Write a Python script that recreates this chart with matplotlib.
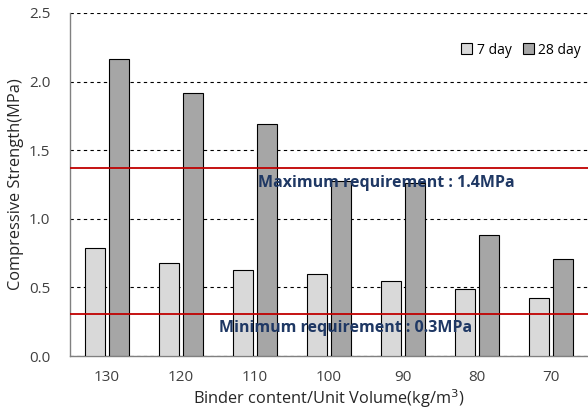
import matplotlib
matplotlib.use("Agg")
import matplotlib.pyplot as plt
import numpy as np

# binder content categories and strengths
binder = ['130', '120', '110', '100', '90', '80', '70']
day7 = [0.79, 0.68, 0.63, 0.60, 0.55, 0.49, 0.42]
day28 = [2.165, 1.92, 1.69, 1.275, 1.26, 0.88, 0.71]
max_req = 1.37
min_req = 0.31

plt.rcParams['font.family'] = ['Open Sans', 'DejaVu Sans']

fig = plt.figure(figsize=(5.88, 4.16), dpi=100)
ax = fig.add_axes([0.119, 0.144, 0.881, 0.825])

x = np.arange(len(binder))
w = 0.27
ax.bar(x - 0.16, day7, w, color='#d9d9d9', edgecolor='black', linewidth=0.8,
       label='7 day', zorder=3)
ax.bar(x + 0.16, day28, w, color='#a6a6a6', edgecolor='black', linewidth=0.8,
       label='28 day', zorder=3)

ax.axhline(max_req, color='#c00000', linewidth=1.3, zorder=4)
ax.axhline(min_req, color='#c00000', linewidth=1.3, zorder=4)

ax.text(3.78, 1.26, 'Maximum requirement : 1.4MPa', color='#1f3864',
        fontsize=11.5, fontweight='bold', ha='center', va='center', zorder=5)
ax.text(3.22, 0.205, 'Minimum requirement : 0.3MPa', color='#1f3864',
        fontsize=11.5, fontweight='bold', ha='center', va='center', zorder=5)

ax.set_xlim(-0.5, len(binder) - 0.5)
ax.set_ylim(0, 2.5)
ax.set_yticks(np.arange(0, 2.51, 0.5))
ax.set_yticklabels(['%.1f' % v for v in np.arange(0, 2.51, 0.5)])
ax.set_xticks(x)
ax.set_xticklabels(binder)
ax.yaxis.grid(True, linestyle=(0, (3, 3)), color='black', linewidth=0.8, zorder=0)
ax.set_axisbelow(True)

for s in ['top', 'right']:
    ax.spines[s].set_visible(False)
for s in ['left', 'bottom']:
    ax.spines[s].set_color('#808080')
    ax.spines[s].set_linewidth(1.0)
ax.tick_params(length=0, labelsize=11, colors='#404040')
ax.tick_params(axis='y', pad=14)
ax.tick_params(axis='x', pad=10)

ax.set_ylabel('Compressive Strength(MPa)', fontsize=11.8, color='#262626', labelpad=4)
ax.set_xlabel('Binder content/Unit Volume(kg/m$^3$)', fontsize=11.8, color='#262626',
              labelpad=2)

ax.legend(loc='upper right', bbox_to_anchor=(1.01, 0.95), ncol=2, frameon=False,
          fontsize=10, handlelength=0.8, handleheight=0.8, handletextpad=0.3,
          columnspacing=0.8)

plt.savefig('out.png', dpi=100)
